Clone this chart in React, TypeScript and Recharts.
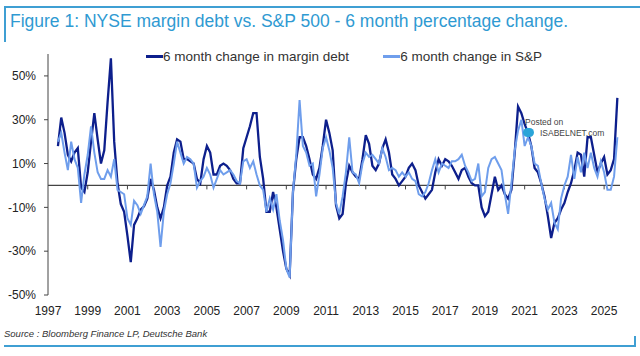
import { LineChart, Line, XAxis, YAxis, ReferenceLine } from 'recharts'

// bi-monthly readings, first point mid-1997
const START_YEAR = 1997.5
const STEP = 1 / 6

const MARGIN_DEBT = [
    18, 31, 24, 14, 11, 15, 17, -1, -3, 6,
    20, 33, 21, 10, 16, 38, 58, 20, 1, -8.5,
    -12, -23, -35, -18, -15, -11, -9.5, -6, 3, -2,
    -10, -15, -10, 0, 4, 15, 21, 20, 12, 12,
    11, 10, 3, 1, 12, 18, 15, 5, 5, 9,
    10, 9, 7, 3, 1, 1, 17, 22, 27, 33,
    33, 13, 3, -12, -12, -3, -10, -20, -30, -38,
    -41, -3, 12, 22, 22, 18, 12, 5, 3, 8,
    18, 30, 24, 16, -9, -15, -13, 1, 9, 6,
    4, 3, 12, 23, 19, 9, 7, 10, 17, 21,
    15, 5, 3, 0, 2, 4, 8, 10, 7, 0,
    -3, -6, -4, -2, 6, 12, 9, 12, 11, 9,
    6, 3, 7, 8, 4, 1, 0, 0, -10, -14,
    -12, -4, 4, -2, 0, -4, -6, -2, 15, 36,
    33, 28, 24, 18, 8, 6, 1, -5, -14, -24,
    -17, -15, -11, -8, -3, 1, 7, 15, 14, 4,
    22, 22, 14, 6, 10, 13, 5, 7, 12, 40,
]

const SP500 = [
    20, 24, 15, 7, 20, 12, 8, -8, 5, 14,
    27, 15, 6, 3, 3, 7, 4, 12, -2, -3,
    -4, -15, -18, -7, -9, -13, -9, -5, 10, -4,
    -12, -28, -12, -4, 1, 10, 20, 15, 10, 13,
    12, 10, -1, 2, 4, 8, 5, -1, 3, 7,
    5, 6, 7, 5, 2, 1, 11, 12, 8, 11,
    5, 0, -2, -12, -6, -11, -4, -16, -25, -38,
    -42, -3, 14, 39, 18, 15, 9, 10, -5, 5,
    17, 22, 16, 8, -8, -13, -5, 6, 22, 6,
    5, 1, 10, 15, 13, 14, 12, 10, 17, 13,
    7, 8, 7, 4, 6, 4, 6, 3, 2, -4,
    -5, -3, 1, 7, 12, 6, 10, 9, 8, 11,
    11, 12, 14, 9, 6, 2, 3, 10, -5, -3,
    8, 12, 13, 10, 7, -4, -13, 1, 16, 25,
    30, 18, 22, 18, 10, 9, 1, -6, -11, -8,
    -17, -20, -6, 0, 4, 14, 3, 13, 6, 15,
    8, 15, 8, 4, 11, 6, -2, -2, 4, 22,
]

const YEAR_TICKS = [1997, 1999, 2001, 2003, 2005, 2007, 2009, 2011, 2013, 2015, 2017, 2019, 2021, 2023, 2025]
const PCT_TICKS = [-50, -30, -10, 10, 30, 50]

const DARK = '#0d1f8c'
const LIGHT = '#6f9eec'
const FRAME = '#3f9fd3'
const FONT = '"Liberation Sans", Arial, sans-serif'

const data = MARGIN_DEBT.map((v, i) => ({
    t: START_YEAR + i * STEP,
    margin: v,
    sp: SP500[i],
}))

export default function App() {
    return (
        <div style={{ position: 'absolute', left: 0, top: 0, width: 640, height: 356, background: '#fff', fontFamily: FONT, overflow: 'hidden' }}>
            {/* frame */}
            <div style={{ position: 'absolute', left: 4, top: 6, width: 636, height: 2, background: FRAME }} />
            <div style={{ position: 'absolute', left: 4, top: 6, width: 2, height: 36, background: FRAME }} />
            <div style={{ position: 'absolute', left: 4, top: 345, width: 632, height: 2, background: FRAME }} />
            <div style={{ position: 'absolute', left: 634, top: 336, width: 2, height: 11, background: FRAME }} />

            <div style={{ position: 'absolute', left: 10, top: 11, fontSize: 17.5, color: '#2f9ad2', whiteSpace: 'nowrap' }}>
                Figure 1: NYSE margin debt vs. S&amp;P 500 - 6 month percentage change.
            </div>

            {/* legend */}
            <div style={{ position: 'absolute', left: 146, top: 49, fontSize: 13.5, color: '#333', display: 'flex', alignItems: 'center', whiteSpace: 'nowrap' }}>
                <span style={{ display: 'inline-block', width: 17, height: 3, background: DARK }} />
                <span>6 month change in margin debt</span>
                <span style={{ display: 'inline-block', width: 17, height: 3, background: LIGHT, marginLeft: 34 }} />
                <span>6 month change in S&amp;P</span>
            </div>

            <div style={{ position: 'absolute', left: 0, top: 40 }}>
                <LineChart width={640} height={290} data={data} margin={{ top: 14, right: 20, left: 0, bottom: 5 }}>
                    <XAxis
                        dataKey="t"
                        type="number"
                        domain={[1997, 2025.8]}
                        ticks={YEAR_TICKS}
                        axisLine={false}
                        tickLine={false}
                        tickSize={0}
                        tickMargin={11}
                        height={30}
                        tick={{ fontSize: 12, fill: '#222', fontFamily: FONT }}
                    />
                    <YAxis
                        domain={[-50, 60]}
                        ticks={PCT_TICKS}
                        width={48}
                        tickFormatter={(v) => `${v}%`}
                        tickSize={4}
                        tickMargin={8}
                        axisLine={{ stroke: '#444' }}
                        tickLine={{ stroke: '#444' }}
                        tick={{ fontSize: 12, fill: '#222', fontFamily: FONT }}
                    />
                    <ReferenceLine y={0} stroke="#444" strokeWidth={1.2} />
                    {YEAR_TICKS.slice(1).map((yr) => (
                        <ReferenceLine key={yr} segment={[{ x: yr, y: 0 }, { x: yr, y: -1.8 }]} stroke="#444" />
                    ))}
                    <Line type="linear" dataKey="margin" stroke={DARK} strokeWidth={2.3} dot={false} isAnimationActive={false} />
                    <Line type="linear" dataKey="sp" stroke={LIGHT} strokeWidth={2} dot={false} isAnimationActive={false} />
                </LineChart>
            </div>

            {/* watermark */}
            <div style={{ position: 'absolute', left: 525, top: 117, fontSize: 8.5, color: '#444' }}>Posted on</div>
            <div style={{ position: 'absolute', left: 523, top: 128, width: 11, height: 9, borderRadius: 5, background: '#2aa4d8' }} />
            <div style={{ position: 'absolute', left: 540, top: 128, fontSize: 8.5, color: '#444' }}>ISABELNET.com</div>

            <div style={{ position: 'absolute', left: 4, top: 328, fontSize: 9.5, fontStyle: 'italic', color: '#333', whiteSpace: 'nowrap' }}>
                Source : Bloomberg Finance LP, Deutsche Bank
            </div>
        </div>
    )
}
